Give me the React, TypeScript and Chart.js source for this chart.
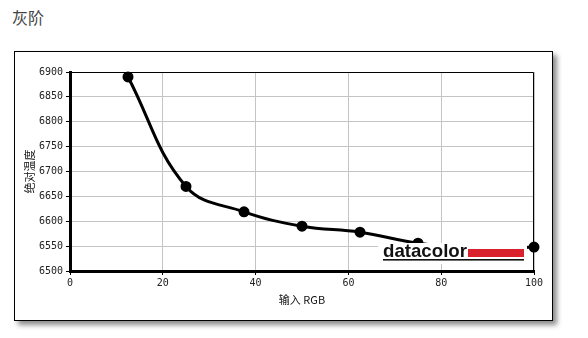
import React, { useEffect, useRef } from "react";
import { Chart, registerables } from "chart.js";

Chart.register(...registerables);

const chartTitle = "灰阶";
const xAxisTitle = "输入 RGB";
const yAxisTitle = "绝对温度";
const inputRGB = [12.5, 25, 37.5, 50, 62.5, 75, 87.5, 100];
const temperature = [6890, 6670, 6619, 6590, 6578, 6556, 6544, 6548];
const logoText = "datacolor";

const tickFont = { family: "'DejaVu Sans Mono', monospace", size: 10 };
const titleFont = { family: "'Noto Sans CJK SC', sans-serif", size: 11 };

const framePlugin = {
  id: "frame",
  afterDraw(chart: any) {
    const { ctx, chartArea } = chart;
    const { left, top, right, bottom } = chartArea;
    ctx.save();
    ctx.strokeStyle = "#000";
    ctx.lineWidth = 1;
    ctx.beginPath();
    ctx.moveTo(left, top + 0.5);
    ctx.lineTo(right - 0.5, top + 0.5);
    ctx.lineTo(right - 0.5, bottom);
    ctx.stroke();
    ctx.restore();
  },
};

const logoPlugin = {
  id: "logo",
  afterDatasetsDraw(chart: any) {
    const { ctx, chartArea } = chart;
    const x0 = chartArea.left + 313;
    const y0 = chartArea.bottom - 14;
    ctx.save();
    ctx.fillStyle = "#fff";
    ctx.fillRect(x0 - 5, y0 - 14, 149, 21);
    ctx.fillRect(x0 + 70, y0 - 16, 74, 4);
    ctx.fillStyle = "#111";
    ctx.font = "bold 19px 'Liberation Sans', Arial, sans-serif";
    ctx.textBaseline = "alphabetic";
    ctx.textAlign = "left";
    ctx.fillText(logoText, x0, y0, 84);
    ctx.fillStyle = "#d9222c";
    ctx.fillRect(x0 + 85, y0 - 8, 56, 8);
    ctx.fillStyle = "#111";
    ctx.fillRect(x0, y0 + 2, 141, 1.6);
    ctx.restore();
  },
};

const plain = (v: any) => String(v);

export default function App() {
  const canvasRef = useRef<HTMLCanvasElement>(null);

  useEffect(() => {
    if (!canvasRef.current) return;
    const chart = new Chart(canvasRef.current, {
      type: "line",
      data: {
        datasets: [
          {
            data: inputRGB.map((x, i) => ({ x, y: temperature[i] })),
            borderColor: "#000",
            backgroundColor: "#000",
            borderWidth: 3,
            pointRadius: 4,
            pointBackgroundColor: "#000",
            pointBorderColor: "#000",
            tension: 0.4,
            clip: false,
          },
        ],
      },
      options: {
        animation: false,
        responsive: false,
        maintainAspectRatio: false,
        layout: { padding: { top: 20, right: 18, left: 0, bottom: 0 } },
        plugins: {
          legend: { display: false },
          tooltip: { enabled: false },
        },
        scales: {
          x: {
            type: "linear",
            min: 0,
            max: 100,
            afterFit: (s: any) => {
              s.height = 49;
            },
            ticks: { stepSize: 20, font: tickFont, color: "#222", padding: 2, callback: plain },
            grid: { color: "#c4c4c4", tickColor: "#000", tickLength: 4, lineWidth: 1 },
            border: { color: "#000", width: 3 },
            title: {
              display: true,
              text: xAxisTitle,
              font: titleFont,
              color: "#111",
              padding: { top: 0, bottom: 14 },
            },
          },
          y: {
            type: "linear",
            min: 6500,
            max: 6900,
            afterFit: (s: any) => {
              s.width = 55;
            },
            ticks: { stepSize: 50, font: tickFont, color: "#222", padding: 3, callback: plain },
            grid: { color: "#c4c4c4", tickColor: "#000", tickLength: 4, lineWidth: 1 },
            border: { color: "#000", width: 3 },
            title: {
              display: true,
              text: yAxisTitle,
              font: titleFont,
              color: "#111",
              padding: { top: 8, bottom: 0 },
            },
          },
        },
      },
      plugins: [framePlugin, logoPlugin],
    } as any);
    return () => chart.destroy();
  }, []);

  return (
    <div
      style={{
        position: "absolute",
        left: 0,
        top: 0,
        width: 588,
        height: 338,
        background: "#fff",
      }}
    >
      <div
        style={{
          position: "absolute",
          left: 12,
          top: 5,
          fontFamily: "'Noto Sans CJK SC', sans-serif",
          fontSize: 16,
          color: "#444",
          lineHeight: "24px",
        }}
      >
        {chartTitle}
      </div>
      <div
        style={{
          position: "absolute",
          left: 14,
          top: 51,
          width: 537,
          height: 268,
          border: "1px solid #000",
          background: "#fff",
          boxShadow: "4px 4px 5px rgba(0,0,0,0.45)",
        }}
      >
        <canvas
          ref={canvasRef}
          width={537}
          height={268}
          style={{ display: "block", width: 537, height: 268 }}
        />
      </div>
    </div>
  );
}
